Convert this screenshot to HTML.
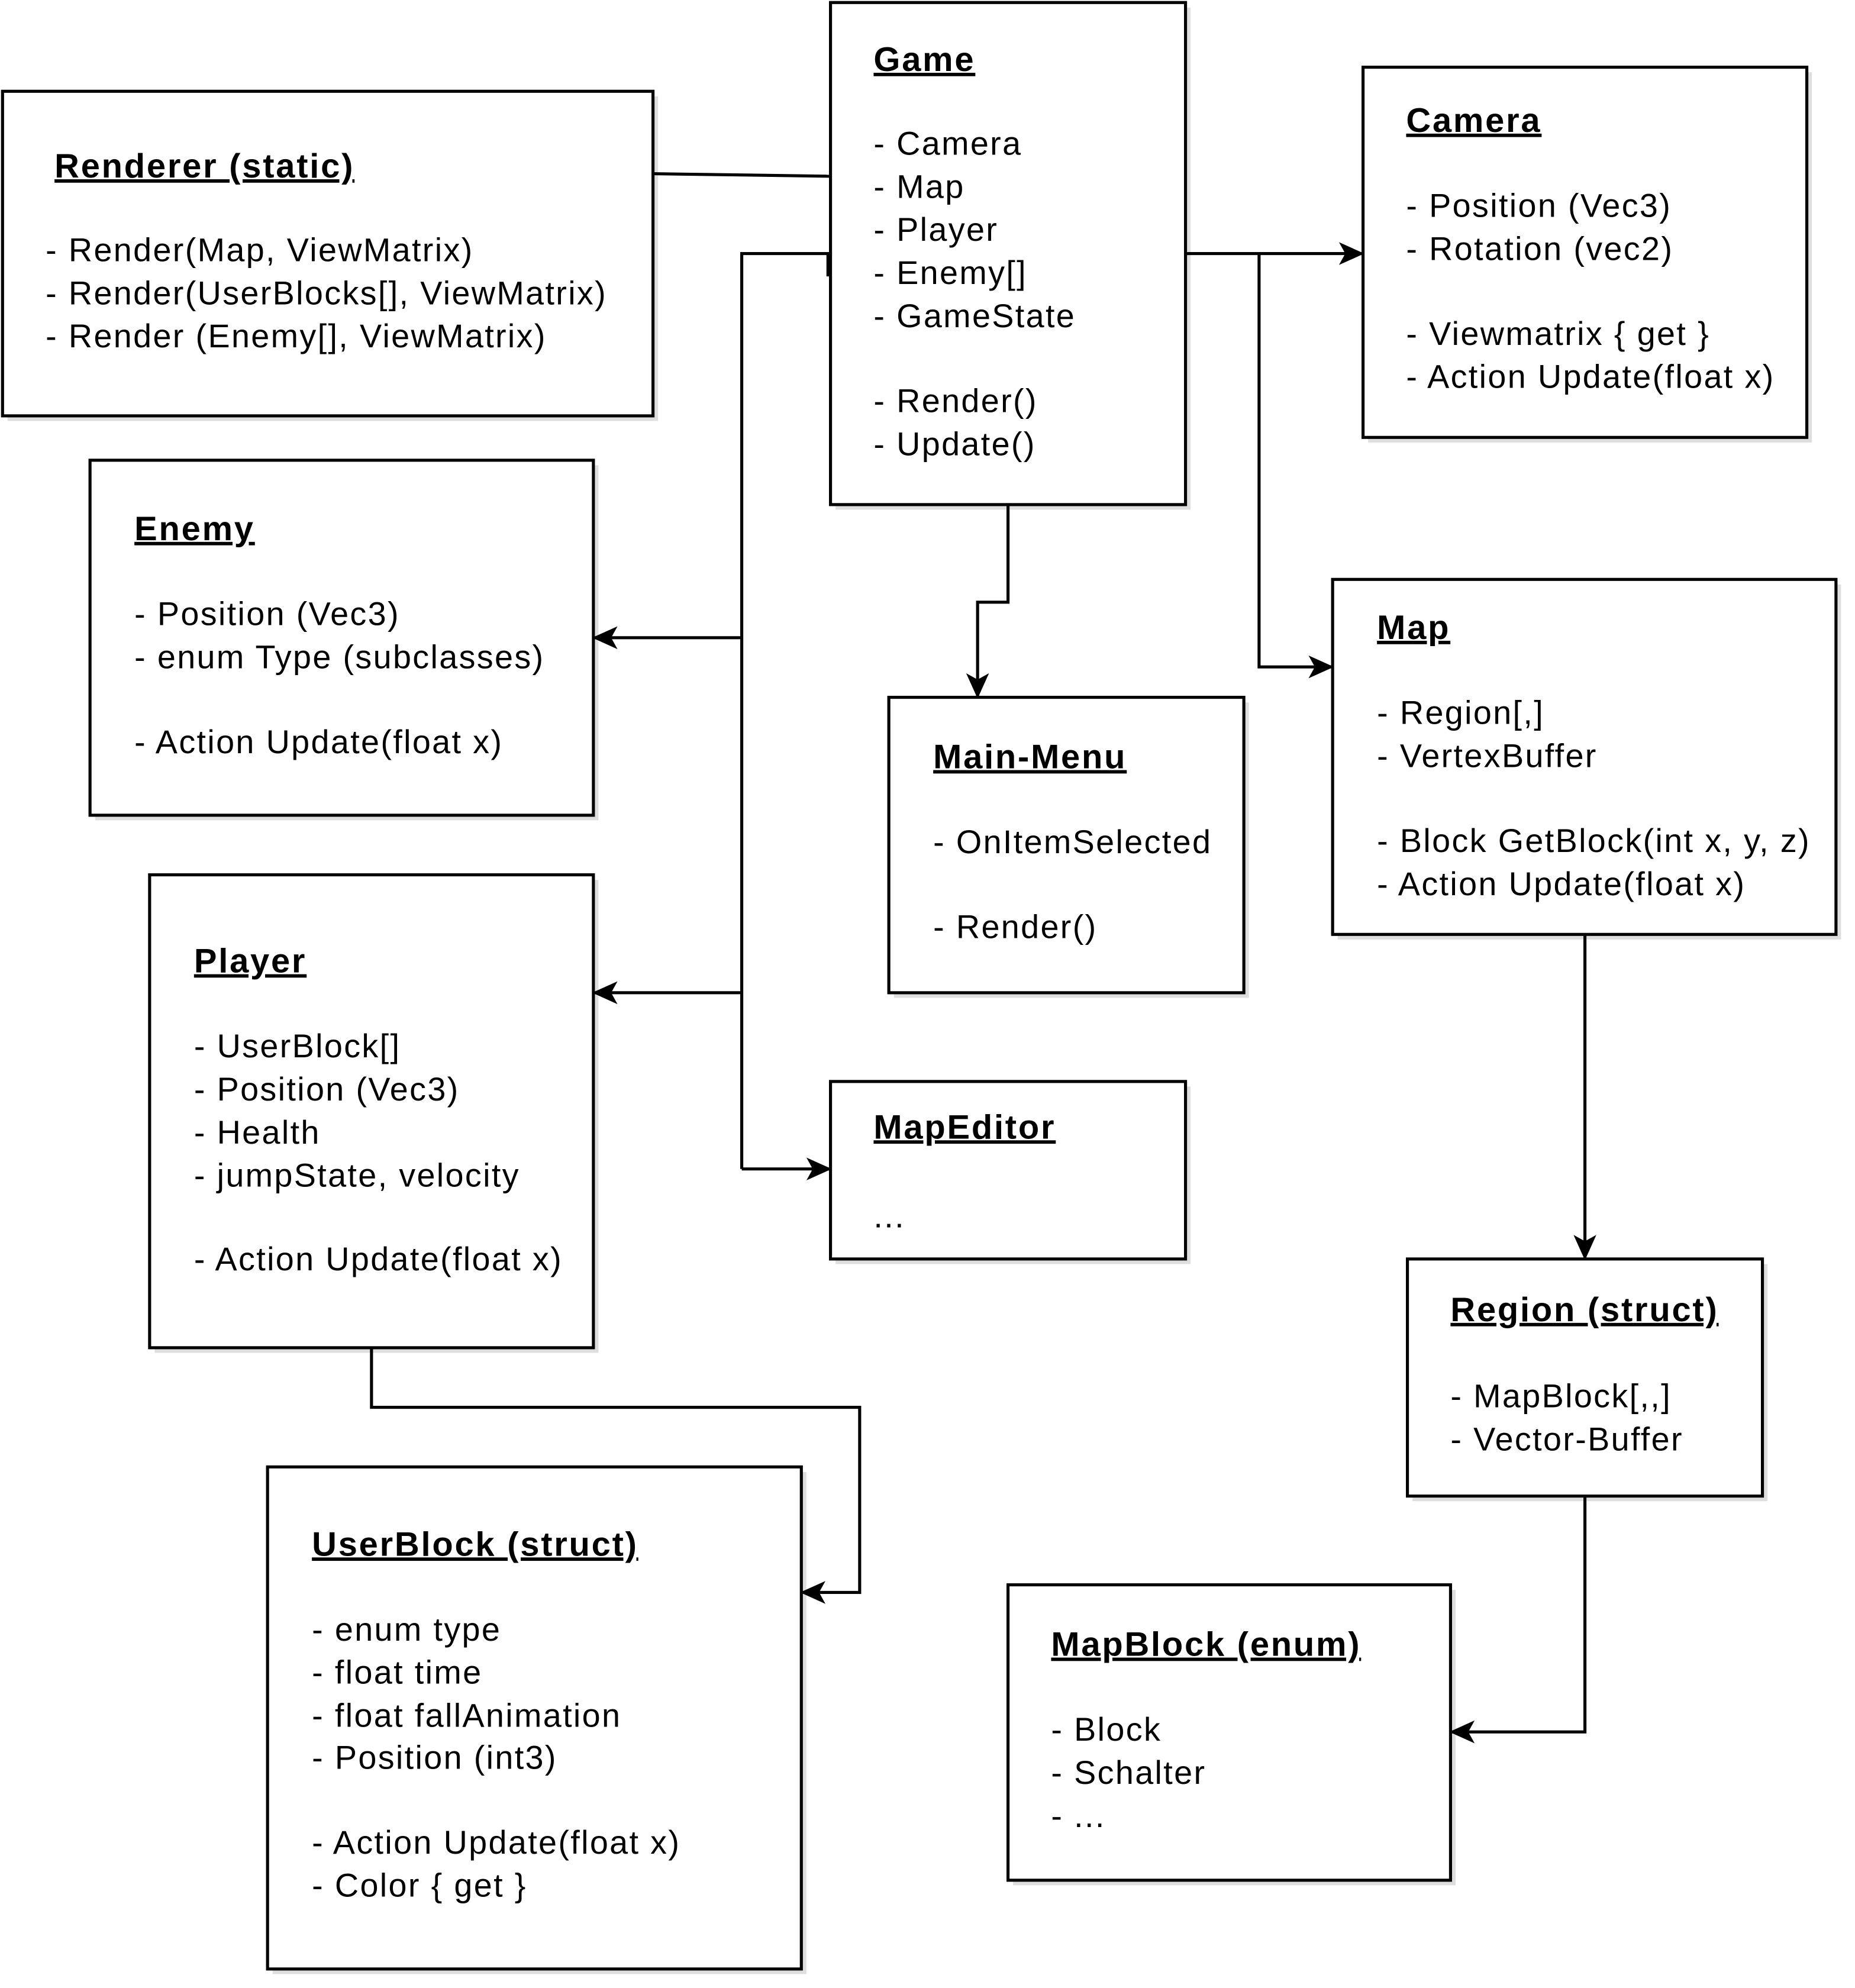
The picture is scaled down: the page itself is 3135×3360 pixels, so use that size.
<!DOCTYPE html>
<html><head><meta charset="utf-8"><style>
html,body{margin:0;padding:0;background:#fff;}
svg{display:block;}
text{font-family:"Liberation Sans",Arial,sans-serif;font-size:26px;fill:#000;letter-spacing:1.1px;}
.t{font-weight:bold;font-size:27px;text-decoration:underline;letter-spacing:1.3px;}
.b{fill:#fff;stroke:#000;stroke-width:2.4;}
.s{fill:#c8c8c8;opacity:0.6;}
.l{fill:none;stroke:#000;stroke-width:2.4;}
</style></head><body>
<svg width="3135" height="3360" viewBox="0 0 1463 1568" xmlns="http://www.w3.org/2000/svg">
<defs>
<marker id="m" markerWidth="20" markerHeight="20" refX="19" refY="10" orient="auto" markerUnits="userSpaceOnUse" viewBox="0 0 20 20"><path d="M0,1 L20,10 L0,19 L5,10 Z" fill="#000"/></marker></defs>
<g>
<rect class="s" x="659" y="6" width="280" height="396"/><rect class="b" x="655" y="2" width="280" height="396"/>
<rect class="s" x="6" y="76" width="513" height="256"/><rect class="b" x="2" y="72" width="513" height="256"/>
<rect class="s" x="1079" y="57" width="350" height="292"/><rect class="b" x="1075" y="53" width="350" height="292"/>
<rect class="s" x="75" y="367" width="397" height="280"/><rect class="b" x="71" y="363" width="397" height="280"/>
<rect class="s" x="1055" y="461" width="397" height="280"/><rect class="b" x="1051" y="457" width="397" height="280"/>
<rect class="s" x="705" y="554" width="280" height="233"/><rect class="b" x="701" y="550" width="280" height="233"/>
<rect class="s" x="122" y="694" width="350" height="373"/><rect class="b" x="118" y="690" width="350" height="373"/>
<rect class="s" x="659" y="857" width="280" height="140"/><rect class="b" x="655" y="853" width="280" height="140"/>
<rect class="s" x="1114" y="997" width="280" height="187"/><rect class="b" x="1110" y="993" width="280" height="187"/>
<rect class="s" x="215" y="1161" width="421" height="396"/><rect class="b" x="211" y="1157" width="421" height="396"/>
<rect class="s" x="799" y="1254" width="349" height="233"/><rect class="b" x="795" y="1250" width="349" height="233"/>
</g>
<g>
<path class="l" d="M515,137 L655,139"/>
<path class="l" d="M655,200 L585,200 L585,922"/>
<path class="l" d="M653,200 L653,218"/>
<path class="l" d="M585,503 L468,503" marker-end="url(#m)"/>
<path class="l" d="M585,783 L468,783" marker-end="url(#m)"/>
<path class="l" d="M585,922 L655,922" marker-end="url(#m)"/>
<path class="l" d="M935,200 L1075,200" marker-end="url(#m)"/>
<path class="l" d="M993,200 L993,526 L1051,526" marker-end="url(#m)"/>
<path class="l" d="M795,398 L795,475 L771,475 L771,550" marker-end="url(#m)"/>
<path class="l" d="M1250,737 L1250,993" marker-end="url(#m)"/>
<path class="l" d="M1250,1180 L1250,1366 L1144,1366" marker-end="url(#m)"/>
<path class="l" d="M293,1063 L293,1110 L678,1110 L678,1256 L632,1256" marker-end="url(#m)"/>
</g>
<text class="t" x="689" y="56">Game</text>
<text x="689" y="122">- Camera</text><text x="689" y="156">- Map</text><text x="689" y="190">- Player</text><text x="689" y="224">- Enemy[]</text><text x="689" y="258">- GameState</text><text x="689" y="325">- Render()</text><text x="689" y="359">- Update()</text>
<text class="t" x="43" y="140">Renderer (static)</text>
<text x="36" y="206">- Render(Map, ViewMatrix)</text><text x="36" y="240">- Render(UserBlocks[], ViewMatrix)</text><text x="36" y="274">- Render (Enemy[], ViewMatrix)</text>
<text class="t" x="1109" y="104">Camera</text>
<text x="1109" y="171">- Position (Vec3)</text><text x="1109" y="205">- Rotation (vec2)</text><text x="1109" y="272">- Viewmatrix { get }</text><text x="1109" y="306">- Action Update(float x)</text>
<text class="t" x="106" y="426">Enemy</text>
<text x="106" y="493">- Position (Vec3)</text><text x="106" y="527">- enum Type (subclasses)</text><text x="106" y="594">- Action Update(float x)</text>
<text class="t" x="1086" y="504">Map</text>
<text x="1086" y="571">- Region[,]</text><text x="1086" y="605">- VertexBuffer</text><text x="1086" y="672">- Block GetBlock(int x, y, z)</text><text x="1086" y="706">- Action Update(float x)</text>
<text class="t" x="736" y="606">Main-Menu</text>
<text x="736" y="673">- OnItemSelected</text><text x="736" y="740">- Render()</text>
<text class="t" x="153" y="767">Player</text>
<text x="153" y="834">- UserBlock[]</text><text x="153" y="868">- Position (Vec3)</text><text x="153" y="902">- Health</text><text x="153" y="936">- jumpState, velocity</text><text x="153" y="1002">- Action Update(float x)</text>
<text class="t" x="689" y="898">MapEditor</text>
<text x="689" y="968">...</text>
<text class="t" x="1144" y="1042">Region (struct)</text>
<text x="1144" y="1110">- MapBlock[,,]</text><text x="1144" y="1144">- Vector-Buffer</text>
<text class="t" x="246" y="1227">UserBlock (struct)</text>
<text x="246" y="1294">- enum type</text><text x="246" y="1328">- float time</text><text x="246" y="1362">- float fallAnimation</text><text x="246" y="1395">- Position (int3)</text><text x="246" y="1462">- Action Update(float x)</text><text x="246" y="1496">- Color { get }</text>
<text class="t" x="829" y="1306">MapBlock (enum)</text>
<text x="829" y="1373">- Block</text><text x="829" y="1407">- Schalter</text><text x="829" y="1441">- ...</text>
</svg>
</body></html>
